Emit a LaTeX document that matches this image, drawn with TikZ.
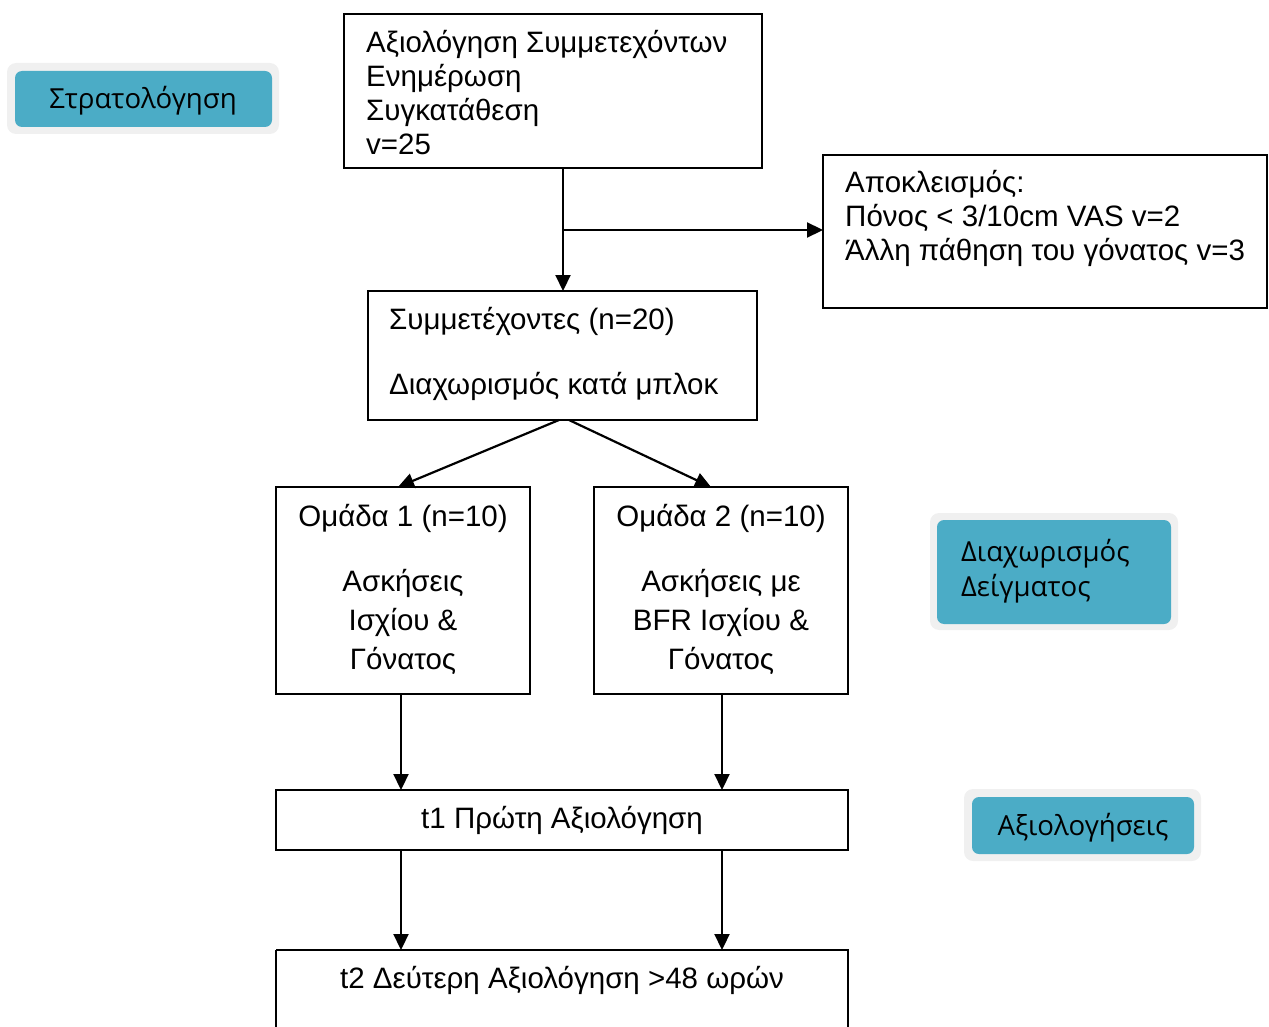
\documentclass[tikz,border=0pt]{standalone}
\usepackage{fontspec}
\setmainfont{Liberation Sans}
\newfontfamily\tealfont{Open Sans}
\usetikzlibrary{arrows.meta}
\definecolor{teal1}{HTML}{4BACC6}
\definecolor{glow}{HTML}{F0F0F0}
\begin{document}
\begin{tikzpicture}[x=1pt,y=-1pt,
  box/.style={draw=black,line width=1.6pt,fill=white},
  txt/.style={font=\fontsize{29.5}{34}\selectfont,inner sep=0pt},
  conn/.style={line width=2.2pt,-{Triangle[length=16pt,width=15pt]}},
  outerbox/.style={fill=glow,rounded corners=9pt},
  tealbox/.style={fill=teal1,rounded corners=7pt},
  tealtxt/.style={font=\tealfont\fontsize{27.6}{35}\selectfont,inner sep=0pt}]
\useasboundingbox (0,0) rectangle (1269,1027);
% boxes
\draw[box] (344,14) rectangle (762,168);
\node[txt,anchor=north west,align=left] (A) at (366,30) {Αξιολόγηση Συμμετεχόντων\\Ενημέρωση\\Συγκατάθεση\\v=25};
\draw[box] (823,155) rectangle (1267,308);
\node[txt,anchor=north west,align=left] (E) at (845,170.5) {Αποκλεισμός:\\Πόνος < 3/10cm VAS v=2\\Άλλη πάθηση του γόνατος v=3};
\draw[box] (368,291) rectangle (757,420);
\node[txt,anchor=north west,align=left] (P1) at (389,307) {Συμμετέχοντες (n=20)};
\node[txt,anchor=north west,align=left] (P2) at (389,372) {Διαχωρισμός κατά μπλοκ};
\draw[box] (276,487) rectangle (530,694);
\node[txt,anchor=north] (G1a) at (403,504) {Ομάδα 1 (n=10)};
\node[txt,anchor=north,align=center,font=\fontsize{29.5}{39}\selectfont] (G1b) at (403,569) {Ασκήσεις\\Ισχίου \&\\Γόνατος};
\draw[box] (594,487) rectangle (848,694);
\node[txt,anchor=north] (G2a) at (721,504) {Ομάδα 2 (n=10)};
\node[txt,anchor=north,align=center,font=\fontsize{29.5}{39}\selectfont] (G2b) at (721,569) {Ασκήσεις με\\BFR Ισχίου \&\\Γόνατος};
\draw[box] (276,790) rectangle (848,850);
\node[txt] (T1) at (562,820) {t1 Πρώτη Αξιολόγηση};
\draw[box] (276,950) -- (276,1040) (276,950) -- (848,950) -- (848,1040);
\node[txt] (T2) at (562,980) {t2 Δεύτερη Αξιολόγηση >48 ωρών};
% named anchor coordinates
\coordinate (Ab) at (563,168);
\coordinate (Pt) at (563,291);
\coordinate (Br) at (563,230);
\coordinate (El) at (823,230);
\coordinate (Pb1) at (559,420);
\coordinate (Pb2) at (569,420);
\coordinate (G1t) at (398,487);
\coordinate (G2t) at (711,487);
\coordinate (G1bot) at (401,694);
\coordinate (G2bot) at (722,694);
\coordinate (T1t1) at (401,790);
\coordinate (T1t2) at (722,790);
\coordinate (T1b1) at (401,850);
\coordinate (T1b2) at (722,850);
\coordinate (T2t1) at (401,950);
\coordinate (T2t2) at (722,950);
% connectors
\draw[conn] (Ab) -- (Pt);
\draw[conn] (Br) -- (El);
\draw[conn] (Pb1) -- (G1t);
\draw[conn] (Pb2) -- (G2t);
\draw[conn] (G1bot) -- (T1t1);
\draw[conn] (G2bot) -- (T1t2);
\draw[conn] (T1b1) -- (T2t1);
\draw[conn] (T1b2) -- (T2t2);
% teal labels
\fill[outerbox] (7,63) rectangle (279,134);
\fill[tealbox] (15,71) rectangle (272,127);
\node[tealtxt] (S) at (143,101) {Στρατολόγηση};
\fill[outerbox] (930,513) rectangle (1178,630);
\fill[tealbox] (937,520) rectangle (1171,624);
\node[tealtxt,anchor=west,align=left] (D) at (961,571) {Διαχωρισμός\\Δείγματος};
\fill[outerbox] (964,789) rectangle (1201,861);
\fill[tealbox] (972,797) rectangle (1194,854);
\node[tealtxt] (X) at (1083,828) {Αξιολογήσεις};
\end{tikzpicture}
\end{document}
